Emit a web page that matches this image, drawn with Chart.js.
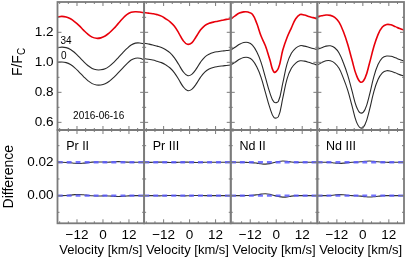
<!DOCTYPE html>
<html>
<head>
<meta charset="utf-8">
<script src="https://cdn.jsdelivr.net/npm/chart.js@4.4.1/dist/chart.umd.min.js"></script>
<style>
  html, body { margin: 0; padding: 0; background: #fff; }
  canvas { display: block; }
</style>
</head>
<body>
<canvas id="chart" width="407" height="262"></canvas>
<script>
// ─── DATA ─────────────────────────────────────────────
// velocity grid shared by all panels (km/s)
const velocity = [-21, -19, -17, -15, -13, -11, -9, -7, -5, -3, -1, 1, 3, 5, 7, 9, 11, 13, 15, 17, 19];
const ions = ['Pr II', 'Pr III', 'Nd II', 'Nd III'];
const velocityTicks = [-12, 0, 12];
const velocityMinor = [-20, -16, -8, -4, 4, 8, 16];
const fluxTicks = [0.6, 0.8, 1.0, 1.2];
const fluxMinor = [0.7, 0.9, 1.1, 1.3];
const diffTicks = [0.00, 0.02];
const diffMinor = [-0.01, 0.01, 0.03];
const refLevels = [0.02, 0.00];
const curveLabels = ['34', '0'];
const dateLabel = '2016-06-16';

// red profile (top curve)
const redPrII  = [1.302, 1.306, 1.302, 1.290, 1.270, 1.245, 1.215, 1.188, 1.168, 1.160, 1.163, 1.175, 1.197, 1.225, 1.258, 1.290, 1.318, 1.333, 1.337, 1.335, 1.330];
const redPrIII = [1.331, 1.328, 1.324, 1.318, 1.308, 1.290, 1.270, 1.240, 1.195, 1.145, 1.120, 1.130, 1.170, 1.215, 1.245, 1.260, 1.268, 1.274, 1.280, 1.286, 1.290];
const redNdII  = [1.289, 1.310, 1.328, 1.336, 1.335, 1.320, 1.260, 1.175, 1.110, 1.020, 0.935, 0.960, 1.080, 1.165, 1.230, 1.290, 1.318, 1.315, 1.305, 1.298, 1.290];
const redNdIII = [1.304, 1.310, 1.315, 1.313, 1.300, 1.268, 1.205, 1.120, 1.015, 0.915, 0.868, 0.895, 0.990, 1.100, 1.185, 1.235, 1.252, 1.250, 1.238, 1.225, 1.215];

// profile labelled "34"
const p34PrII  = [1.097, 1.101, 1.098, 1.086, 1.064, 1.036, 1.006, 0.979, 0.959, 0.950, 0.950, 0.957, 0.975, 1.000, 1.030, 1.061, 1.091, 1.115, 1.128, 1.129, 1.122];
const p34PrIII = [1.127, 1.122, 1.116, 1.108, 1.099, 1.084, 1.063, 1.030, 0.985, 0.938, 0.912, 0.920, 0.955, 1.000, 1.035, 1.054, 1.065, 1.071, 1.075, 1.079, 1.082];
const p34NdII  = [1.082, 1.100, 1.120, 1.132, 1.132, 1.115, 1.070, 1.000, 0.900, 0.800, 0.735, 0.740, 0.860, 0.990, 1.060, 1.095, 1.111, 1.108, 1.100, 1.092, 1.085];
const p34NdIII = [1.087, 1.097, 1.108, 1.110, 1.097, 1.062, 0.997, 0.915, 0.810, 0.706, 0.662, 0.685, 0.780, 0.900, 0.985, 1.030, 1.042, 1.040, 1.030, 1.019, 1.009];

// profile labelled "0"
const p0PrII  = [1.000, 1.002, 0.998, 0.985, 0.963, 0.935, 0.905, 0.878, 0.858, 0.849, 0.849, 0.857, 0.875, 0.900, 0.930, 0.960, 0.990, 1.015, 1.027, 1.027, 1.017];
const p0PrIII = [1.025, 1.020, 1.015, 1.007, 0.998, 0.983, 0.962, 0.930, 0.885, 0.838, 0.812, 0.820, 0.855, 0.900, 0.935, 0.955, 0.966, 0.972, 0.976, 0.979, 0.982];
const p0NdII  = [0.982, 1.000, 1.020, 1.032, 1.032, 1.015, 0.970, 0.900, 0.800, 0.700, 0.632, 0.638, 0.760, 0.890, 0.960, 0.995, 1.010, 1.008, 1.000, 0.990, 0.982];
const p0NdIII = [0.982, 0.998, 1.010, 1.010, 0.995, 0.960, 0.895, 0.815, 0.710, 0.605, 0.562, 0.585, 0.680, 0.800, 0.885, 0.930, 0.944, 0.940, 0.930, 0.918, 0.909];

// difference curves (offset to 0.02 and 0.00)
const diffUpPrII   = [0.0200, 0.0200, 0.0199, 0.0197, 0.0194, 0.0193, 0.0195, 0.0198, 0.0201, 0.0202, 0.0202, 0.0201, 0.0201, 0.0203, 0.0204, 0.0203, 0.0201, 0.0200, 0.0200, 0.0200, 0.0200];
const diffLowPrII  = [0.0000, 0.0000, 0.0001, 0.0003, 0.0006, 0.0007, 0.0005, 0.0002, -0.0001, -0.0002, -0.0002, -0.0001, -0.0002, -0.0004, -0.0005, -0.0004, -0.0002, 0.0000, 0.0000, 0.0000, 0.0000];
const diffUpPrIII  = [0.0200, 0.0200, 0.0200, 0.0201, 0.0201, 0.0200, 0.0199, 0.0199, 0.0200, 0.0201, 0.0201, 0.0200, 0.0199, 0.0199, 0.0200, 0.0200, 0.0200, 0.0200, 0.0200, 0.0200, 0.0200];
const diffLowPrIII = [0.0000, 0.0000, 0.0000, -0.0001, -0.0001, 0.0000, 0.0001, 0.0001, 0.0000, -0.0001, -0.0001, 0.0000, 0.0001, 0.0001, 0.0000, 0.0000, 0.0000, 0.0000, 0.0000, 0.0000, 0.0000];
const diffUpNdII   = [0.0200, 0.0200, 0.0200, 0.0200, 0.0199, 0.0198, 0.0195, 0.0191, 0.0189, 0.0192, 0.0199, 0.0205, 0.0208, 0.0206, 0.0202, 0.0200, 0.0200, 0.0200, 0.0200, 0.0200, 0.0200];
const diffLowNdII  = [0.0000, 0.0000, 0.0000, 0.0000, 0.0001, 0.0002, 0.0005, 0.0009, 0.0011, 0.0008, 0.0001, -0.0005, -0.0009, -0.0008, -0.0003, 0.0000, 0.0000, 0.0000, 0.0000, 0.0000, 0.0000];
const diffUpNdIII  = [0.0200, 0.0200, 0.0200, 0.0199, 0.0196, 0.0194, 0.0195, 0.0198, 0.0200, 0.0201, 0.0203, 0.0206, 0.0208, 0.0206, 0.0203, 0.0201, 0.0200, 0.0200, 0.0200, 0.0200, 0.0200];
const diffLowNdIII = [0.0000, 0.0000, 0.0000, 0.0001, 0.0004, 0.0006, 0.0005, 0.0002, 0.0000, -0.0001, -0.0003, -0.0006, -0.0008, -0.0007, -0.0004, -0.0001, 0.0000, 0.0000, 0.0000, 0.0000, 0.0000];

const redProfiles = [redPrII, redPrIII, redNdII, redNdIII];
const p34Profiles = [p34PrII, p34PrIII, p34NdII, p34NdIII];
const p0Profiles  = [p0PrII, p0PrIII, p0NdII, p0NdIII];
const diffUp      = [diffUpPrII, diffUpPrIII, diffUpNdII, diffUpNdIII];
const diffLow     = [diffLowPrII, diffLowPrIII, diffLowNdII, diffLowNdIII];

// ─── HELPERS ──────────────────────────────────────────
const FONT = '"Liberation Sans", Arial, sans-serif';
const FRAME = '#7b7b7b';
const xIds = ['x0', 'x1', 'x2', 'x3'];

const points = values => velocity.map((v, i) => ({ x: v, y: values[i] }));
const fmtVel = v => (v < 0 ? '\u2212' + Math.abs(v) : String(v));

function lineSet(values, xId, yId, color, width) {
  return { data: points(values), xAxisID: xId, yAxisID: yId, borderColor: color, borderWidth: width, order: 1 };
}

// chart.js pads the chart area for edge tick labels, we don't want that here
function fixY(s) { s.width = 57.5; s.paddingTop = 0; s.paddingBottom = 0; }
function fixX(s) { s.height = 38.7; s.paddingLeft = 0; s.paddingRight = 0; }

// ─── DATASETS ─────────────────────────────────────────
const datasets = [];
xIds.forEach((xId, i) => {
  datasets.push(lineSet(redProfiles[i], xId, 'yTop', '#e8000b', 1.6));
  datasets.push(lineSet(p34Profiles[i], xId, 'yTop', '#2a2a2a', 1.1));
  datasets.push(lineSet(p0Profiles[i], xId, 'yTop', '#2a2a2a', 1.1));
  datasets.push(lineSet(diffUp[i], xId, 'yBot', '#333', 1.1));
  datasets.push(lineSet(diffLow[i], xId, 'yBot', '#333', 1.1));
  // dashed reference levels, drawn over the curves
  refLevels.forEach(level => datasets.push({
    data: [{ x: velocity[0], y: level }, { x: velocity[velocity.length - 1], y: level }],
    xAxisID: xId, yAxisID: 'yBot',
    borderColor: 'rgba(90, 90, 255, 0.85)', borderWidth: 2.4, borderDash: [5, 4], order: 0
  }));
});

// ─── SCALES ───────────────────────────────────────────
const tickFont = { family: FONT, size: 13.5 };
const noGrid = { display: false, drawTicks: false };
const scales = {
  yTop: {
    type: 'linear', axis: 'y', position: 'left', stack: 'left', stackWeight: 128, weight: 1,
    min: 0.549, max: 1.402,
    afterBuildTicks: s => { s.ticks = fluxTicks.map(v => ({ value: v })); },
    afterFit: fixY,
    grid: noGrid, border: { display: false },
    ticks: { font: tickFont, color: '#000', padding: 4, callback: v => v.toFixed(1) }
  },
  yBot: {
    type: 'linear', axis: 'y', position: 'left', stack: 'left', stackWeight: 93.3, weight: 0,
    min: -0.0166, max: 0.0394,
    afterBuildTicks: s => { s.ticks = diffTicks.map(v => ({ value: v })); },
    afterFit: fixY,
    grid: noGrid, border: { display: false },
    ticks: { font: tickFont, color: '#000', padding: 4, callback: v => v.toFixed(2) },
    title: { display: true, text: 'Difference', color: '#000', font: { family: FONT, size: 14 }, padding: { top: 1, bottom: 0 } }
  }
};
xIds.forEach((id, i) => {
  scales[id] = {
    type: 'linear', axis: 'x', position: 'bottom', stack: 'bottom', stackWeight: 1, weight: i,
    min: velocity[0], max: velocity[velocity.length - 1],
    afterBuildTicks: s => { s.ticks = velocityTicks.map(v => ({ value: v })); },
    afterFit: fixX,
    grid: noGrid, border: { display: false },
    ticks: { font: tickFont, color: '#000', padding: 3.5, maxRotation: 0, autoSkip: false, callback: fmtVel },
    title: { display: true, text: 'Velocity [km/s]', color: '#000', font: { family: FONT, size: 13 }, padding: { top: 0, bottom: 4 } }
  };
});

// ─── FRAMES, TICKS, LABELS ────────────────────────────
const overlay = {
  id: 'overlay',
  afterDatasetsDraw(chart) {
    const { ctx } = chart;
    const sc = chart.scales;
    const rows = [
      { ys: sc.yTop, major: fluxTicks, minor: fluxMinor },
      { ys: sc.yBot, major: diffTicks, minor: diffMinor }
    ];
    ctx.save();
    ctx.strokeStyle = FRAME;

    xIds.forEach(id => {
      const xs = sc[id];
      rows.forEach(({ ys, major, minor }) => {
        ctx.lineWidth = 1;
        ctx.beginPath();
        const xTick = (vals, len) => vals.forEach(v => {
          const px = xs.getPixelForValue(v);
          ctx.moveTo(px, ys.bottom); ctx.lineTo(px, ys.bottom - len);
          ctx.moveTo(px, ys.top); ctx.lineTo(px, ys.top + len);
        });
        const yTick = (vals, len) => vals.forEach(v => {
          const py = ys.getPixelForValue(v);
          ctx.moveTo(xs.left, py); ctx.lineTo(xs.left + len, py);
          ctx.moveTo(xs.right, py); ctx.lineTo(xs.right - len, py);
        });
        xTick(velocityTicks, 4); xTick(velocityMinor, 2);
        yTick(major, 4); yTick(minor, 2);
        ctx.stroke();
        ctx.lineWidth = 1.8;
        ctx.strokeRect(xs.left, ys.top, xs.right - xs.left, ys.bottom - ys.top);
      });
    });

    ctx.fillStyle = '#000';
    ctx.textBaseline = 'middle';

    // ion names
    ctx.font = '12.5px ' + FONT;
    ctx.textAlign = 'left';
    ions.forEach((name, i) => {
      ctx.fillText(name, sc[xIds[i]].getPixelForValue(-17), sc.yBot.getPixelForValue(0.0295));
    });

    // curve labels and date in the first panel
    ctx.font = '10px ' + FONT;
    ctx.fillText(curveLabels[0], sc.x0.getPixelForValue(-19.6), sc.yTop.getPixelForValue(1.142));
    ctx.fillText(curveLabels[1], sc.x0.getPixelForValue(-19.4), sc.yTop.getPixelForValue(1.040));
    ctx.textAlign = 'center';
    ctx.fillText(dateLabel, sc.x0.getPixelForValue(-2), sc.yTop.getPixelForValue(0.639));

    // y title F/F_C with subscript
    ctx.save();
    ctx.translate(22, (sc.yTop.top + sc.yTop.bottom) / 2 - 4);
    ctx.rotate(-Math.PI / 2);
    ctx.textAlign = 'left';
    ctx.textBaseline = 'alphabetic';
    ctx.font = '14px ' + FONT;
    const wMain = ctx.measureText('F/F').width;
    ctx.font = '10px ' + FONT;
    const wSub = ctx.measureText('C').width;
    const x0 = -(wMain + wSub) / 2;
    ctx.font = '14px ' + FONT;
    ctx.fillText('F/F', x0, 0);
    ctx.font = '10px ' + FONT;
    ctx.fillText('C', x0 + wMain, 3);
    ctx.restore();

    ctx.restore();
  }
};

// ─── CHART ────────────────────────────────────────────
new Chart(document.getElementById('chart'), {
  type: 'line',
  data: { datasets },
  options: {
    responsive: false,
    animation: false,
    devicePixelRatio: 1,
    layout: { padding: { top: 2, right: 3, left: 0, bottom: 0 } },
    elements: { point: { radius: 0 }, line: { tension: 0.4 } },
    plugins: { legend: { display: false }, tooltip: { enabled: false } },
    scales
  },
  plugins: [overlay]
});
</script>
</body>
</html>
